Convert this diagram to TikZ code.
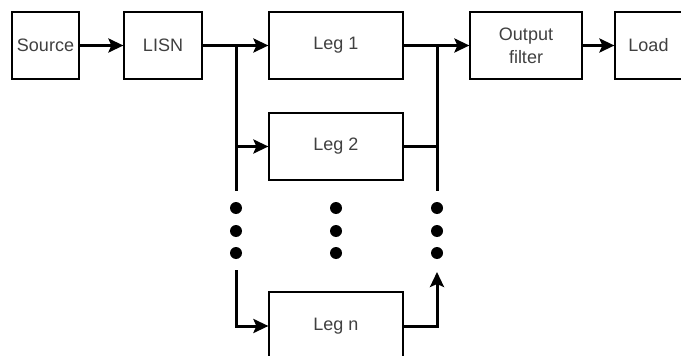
\documentclass[tikz,border=0pt]{standalone}
\usepackage{fontspec}
\setmainfont{Liberation Sans}
\usetikzlibrary{arrows.meta}
\tikzset{
  blk/.style={draw, line width=1.2pt, fill=white, minimum height=67pt, inner sep=0pt, font=\fontsize{18}{23}\selectfont, text=black!75, align=center},
  wire/.style={line width=3pt, line join=miter},
  arr/.style={wire, -{Stealth[length=15pt,width=14pt,inset=3pt]}},
  dot/.style={fill=black}
}
\begin{document}
\begin{tikzpicture}[x=1pt,y=-1pt]
\clip (0,0) rectangle (681,356);
\fill[white] (0,0) rectangle (681,356);
\node[blk, minimum width=67pt] (src) at (45.5,45.5) {Source};
\node[blk, minimum width=78pt] (lisn) at (163,45.5) {LISN};
\node[blk, minimum width=134pt] (leg1) at (336,45.5) {Leg 1};
\node[blk, minimum width=134pt] (leg2) at (336,146.5) {Leg 2};
\node[blk, minimum width=134pt, minimum height=68pt] (legn) at (336,326) {Leg n};
\node[blk, minimum width=112pt] (filt) at (526,45.5) {Output\\filter};
\node[blk, minimum width=67pt] (load) at (648.5,45.5) {Load};
\coordinate (lt) at (236,45.5);
\coordinate (lb1) at (236,191);
\coordinate (lb2) at (236,270);
\coordinate (rt) at (437,45.5);
\coordinate (rb1) at (437,191);
\coordinate (rb2) at (437,272);
\draw[arr] (src) -- (lisn);
\draw[arr] (lisn) -- (leg1);
\draw[arr] (leg1) -- (filt);
\draw[arr] (filt) -- (load);
\draw[wire] (lt) -- (lb1);
\draw[arr] (lt |- leg2) -- (leg2);
\draw[arr] (lb2) |- (legn);
\draw[wire] (rt) -- (rb1);
\draw[wire] (leg2) -- (rt |- leg2);
\draw[arr] (legn) -| (rb2);
\foreach \x in {236,336,437}{
  \foreach \y in {208,231,253}{
    \fill[dot] (\x,\y) circle (6);
  }
}
\end{tikzpicture}
\end{document}
